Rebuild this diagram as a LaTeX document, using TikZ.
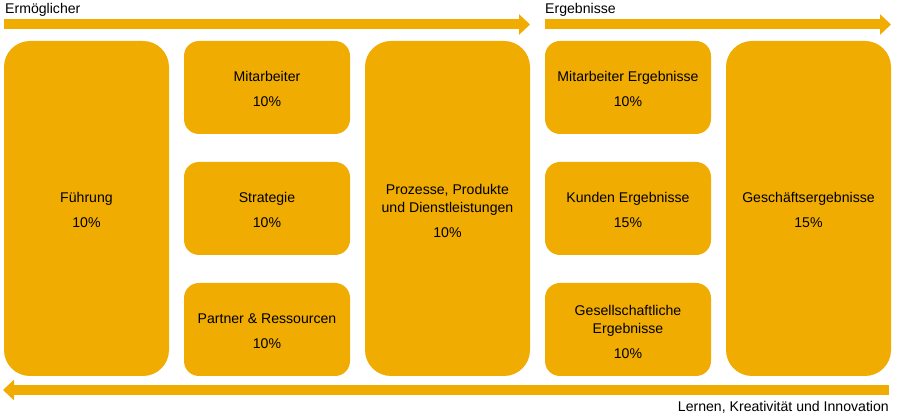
\documentclass[tikz,border=0pt]{standalone}
\usepackage{fontspec}
\setmainfont{Liberation Sans}
\usetikzlibrary{arrows.meta}
\definecolor{efqm}{HTML}{F0AC00}
\newcommand{\blocktext}[2]{\parbox{160pt}{\centering\baselineskip=18pt #1\\[7pt]#2}}
\begin{document}
\begin{tikzpicture}[x=1pt,y=-1pt,
  block/.style={fill=efqm, draw=none, rounded corners=15pt},
  tallblock/.style={block, rounded corners=26pt},
  label/.style={font=\fontsize{14.1}{18}\selectfont, inner sep=0pt, align=center},
  band/.style={draw=efqm, line width=10pt, -{Triangle[width=20pt,length=11pt]}}]
\useasboundingbox (0,0) rectangle (898,419);

% column blocks
\path[tallblock] (4,41) rectangle (169,376);
\node[label] (fuehrung) at (86.5,210) {\blocktext{Führung}{10\%}};
\path[block] (184,41) rectangle (350,134);
\node[label] (mitarbeiter) at (267,89) {\blocktext{Mitarbeiter}{10\%}};
\path[block] (184,162) rectangle (350,255);
\node[label] (strategie) at (267,210) {\blocktext{Strategie}{10\%}};
\path[block] (184,283) rectangle (350,376);
\node[label] (partner) at (267,331) {\blocktext{Partner \& Ressourcen}{10\%}};
\path[tallblock] (365,41) rectangle (530,376);
\node[label] (prozesse) at (447.5,210.5) {\blocktext{Prozesse, Produkte\\und Dienstleistungen}{10\%}};
\path[block] (545,41) rectangle (711,134);
\node[label] (mergeb) at (628,89) {\blocktext{Mitarbeiter Ergebnisse}{10\%}};
\path[block] (545,162) rectangle (711,255);
\node[label] (kunden) at (628,210) {\blocktext{Kunden Ergebnisse}{15\%}};
\path[block] (545,283) rectangle (711,376);
\node[label] (gesell) at (628,331.5) {\blocktext{Gesellschaftliche\\Ergebnisse}{10\%}};
\path[tallblock] (726,41) rectangle (891,376);
\node[label] (geschaeft) at (808.5,210) {\blocktext{Geschäftsergebnisse}{15\%}};

% direction bands
\coordinate (a1s) at (4,24.5);
\coordinate (a1e) at (530,24.5);
\coordinate (a2s) at (545,24.5);
\coordinate (a2e) at (891,24.5);
\coordinate (a3s) at (889,390);
\coordinate (a3e) at (3,390);
\draw[band] (a1s) -- (a1e);
\draw[band] (a2s) -- (a2e);
\draw[band] (a3s) -- (a3e);

% band captions
\node[label, anchor=base west] (ermoeg) at (5,14) {Ermöglicher};
\node[label, anchor=base west] (ergeb) at (545,14) {Ergebnisse};
\node[label, anchor=base east] (lernen) at (889,412) {Lernen, Kreativität und Innovation};
\end{tikzpicture}
\end{document}
